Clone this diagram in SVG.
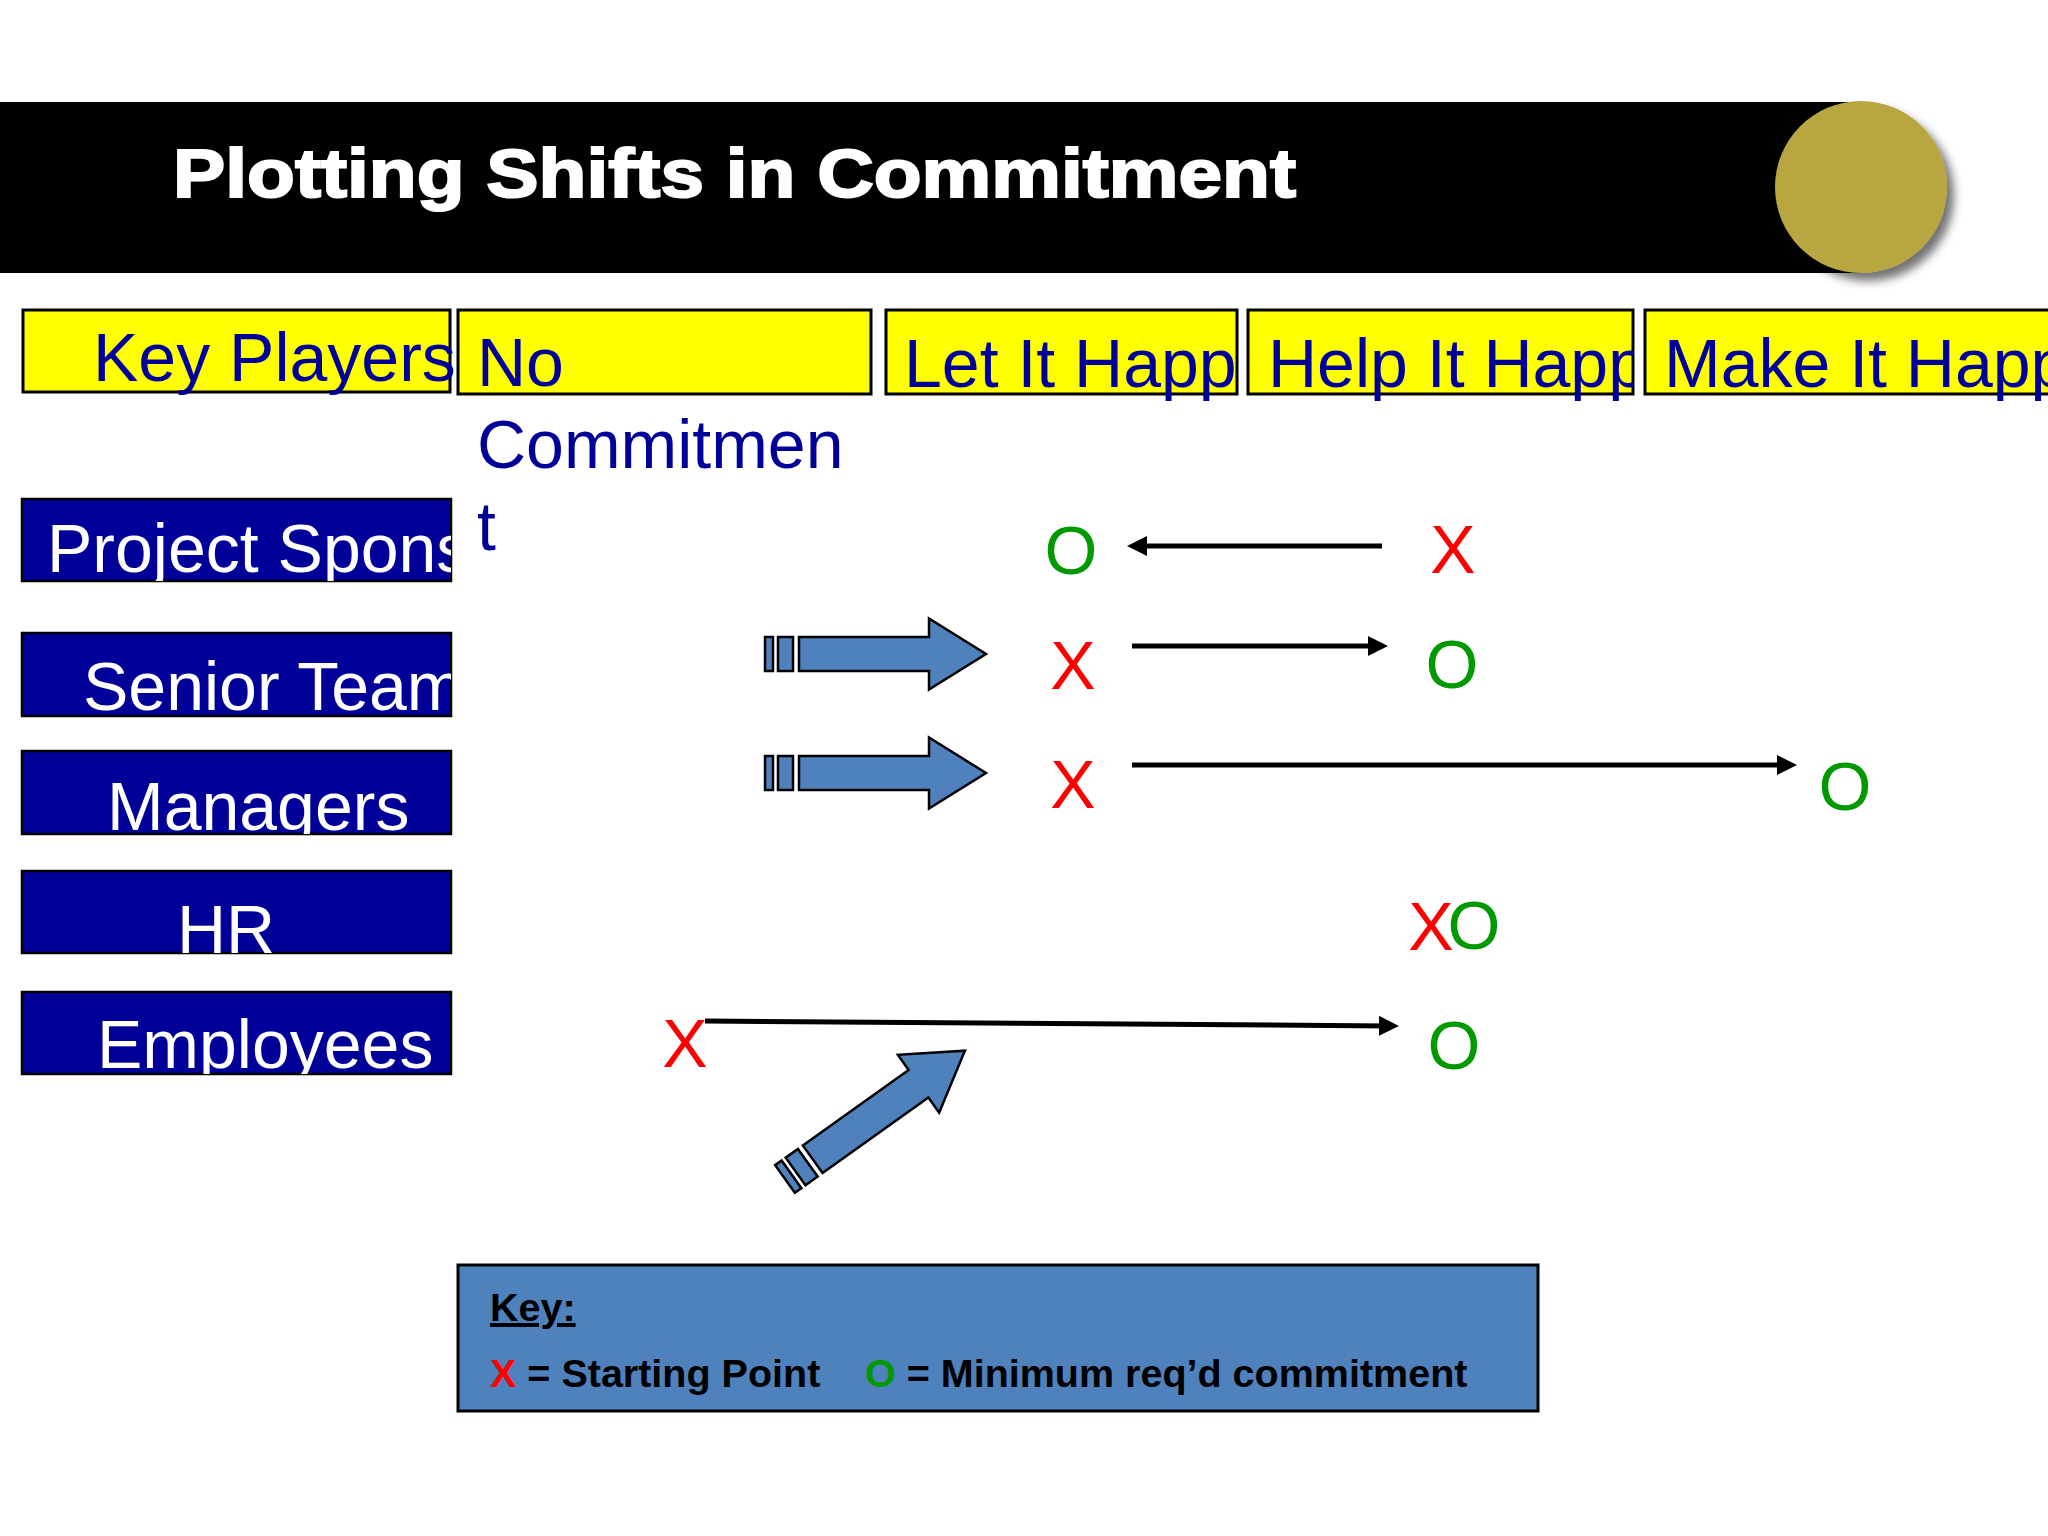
<svg xmlns="http://www.w3.org/2000/svg" width="2048" height="1536" viewBox="0 0 2048 1536">
<style>
.hdr{fill:#FFFF00;stroke:#000;stroke-width:3}
.hdrt{font-family:"Liberation Sans",Arial,sans-serif;font-size:68px;fill:#000099}
.row{fill:#000099;stroke:#000;stroke-width:2.5}
.rowt{font-family:"Liberation Sans",Arial,sans-serif;font-size:68px;fill:#FFFFFF}
.mk{font-family:"Liberation Sans",Arial,sans-serif;font-size:68px;text-anchor:middle}
.x{fill:#FF0000}
.o{fill:#009900}
.conn{stroke:#000;stroke-width:5;fill:none;marker-end:url(#ah)}
.blk{fill:#4F81BD;stroke:#000;stroke-width:2.5;stroke-linejoin:miter}
.keyt{font-family:"Liberation Sans",Arial,sans-serif;font-size:39.5px;font-weight:bold;fill:#000}
</style>
<defs>
<marker id="ah" markerUnits="userSpaceOnUse" markerWidth="22" markerHeight="22" refX="10" refY="10" orient="auto"><path d="M0,0 L20,10 L0,20 Z" fill="#000"/></marker>
<filter id="sh" x="-30%" y="-30%" width="160%" height="160%"><feDropShadow dx="7" dy="8" stdDeviation="5" flood-color="#000" flood-opacity="0.55"/></filter>
<g id="blkarrow" class="blk">
<rect x="0" y="-17" width="8" height="34"/>
<rect x="13" y="-17" width="15" height="34"/>
<path d="M34,-17 H164 V-35.5 L221,0 L164,35.5 V17 H34 Z"/>
</g>
<clipPath id="cLet"><rect x="886" y="280" width="351" height="160"/></clipPath>
<clipPath id="cHelp"><rect x="1248" y="280" width="385" height="160"/></clipPath>
<clipPath id="cProj"><rect x="22" y="499" width="429" height="82"/></clipPath>
<clipPath id="cSen"><rect x="22" y="633" width="429" height="83"/></clipPath>
<clipPath id="cMan"><rect x="22" y="751" width="429" height="83"/></clipPath>
<clipPath id="cHR"><rect x="22" y="871" width="429" height="82"/></clipPath>
<clipPath id="cEmp"><rect x="22" y="992" width="429" height="82"/></clipPath>
</defs>
<rect width="2048" height="1536" fill="#FFFFFF"/>

<g id="title">
<rect x="0" y="102" width="1861" height="171" fill="#000"/>
<circle cx="1861" cy="187" r="86" fill="#B8A640" filter="url(#sh)"/>
<text x="173" y="197" font-family="'Liberation Sans',Arial,sans-serif" font-size="68" font-weight="bold" fill="#FFFFFF" stroke="#FFFFFF" stroke-width="2" textLength="1123" lengthAdjust="spacingAndGlyphs">Plotting Shifts in Commitment</text>
</g>

<g id="hdr-key"><rect class="hdr" x="23" y="310" width="427" height="82"/><text class="hdrt" x="93" y="381">Key Players</text></g>
<g id="hdr-no"><rect class="hdr" x="458" y="310" width="413" height="84"/><text class="hdrt" x="477" y="386">No</text><text class="hdrt" x="477" y="468">Commitmen</text><text class="hdrt" x="477" y="550">t</text></g>
<g id="hdr-let"><rect class="hdr" x="886" y="310" width="351" height="84"/><text class="hdrt" x="904" y="387" clip-path="url(#cLet)">Let It Happe</text></g>
<g id="hdr-help"><rect class="hdr" x="1248" y="310" width="385" height="84"/><text class="hdrt" x="1268" y="387" clip-path="url(#cHelp)">Help It Happ</text></g>
<g id="hdr-make"><rect class="hdr" x="1645" y="310" width="420" height="84"/><text class="hdrt" x="1664" y="387">Make It Happ</text></g>

<g id="row-sponsor"><rect class="row" x="22" y="499" width="429" height="82"/><text class="rowt" x="47" y="572" clip-path="url(#cProj)">Project Spons</text></g>
<g id="row-senior"><rect class="row" x="22" y="633" width="429" height="83"/><text class="rowt" x="83" y="710" clip-path="url(#cSen)">Senior Team</text></g>
<g id="row-managers"><rect class="row" x="22" y="751" width="429" height="83"/><text class="rowt" x="107" y="830" clip-path="url(#cMan)">Managers</text></g>
<g id="row-hr"><rect class="row" x="22" y="871" width="429" height="82"/><text class="rowt" x="177" y="953" clip-path="url(#cHR)">HR</text></g>
<g id="row-employees"><rect class="row" x="22" y="992" width="429" height="82"/><text class="rowt" x="97" y="1068" clip-path="url(#cEmp)">Employees</text></g>

<g id="marks">
<text class="mk o" x="1071" y="574">O</text>
<text class="mk x" x="1453" y="573">X</text>
<text class="mk x" x="1073" y="689">X</text>
<text class="mk o" x="1452" y="688">O</text>
<text class="mk x" x="1073" y="808">X</text>
<text class="mk o" x="1845" y="810">O</text>
<text class="mk x" x="1431" y="950">X</text>
<text class="mk o" x="1474" y="949">O</text>
<text class="mk x" x="685" y="1067">X</text>
<text class="mk o" x="1454" y="1069">O</text>
</g>

<g id="connectors">
<line class="conn" x1="1382" y1="546" x2="1137" y2="546"/>
<line class="conn" x1="1132" y1="646" x2="1378" y2="646"/>
<line class="conn" x1="1132" y1="765" x2="1787" y2="765"/>
<line class="conn" x1="705" y1="1021" x2="1389" y2="1025.9"/>
</g>

<g id="block-arrows">
<use href="#blkarrow" transform="translate(765,654)"/>
<use href="#blkarrow" transform="translate(765,773)"/>
<use href="#blkarrow" transform="translate(785,1179) rotate(-35.5)"/>
</g>

<g id="key">
<rect x="458" y="1265" width="1080" height="146" fill="#4F81BD" stroke="#000" stroke-width="3"/>
<text class="keyt" x="490" y="1321" text-decoration="underline">Key:</text>
<text class="keyt" x="490" y="1387"><tspan fill="#FF0000">X</tspan> = Starting Point</text>
<text class="keyt" x="865" y="1387"><tspan fill="#009900">O</tspan> = Minimum req’d commitment</text>
</g>
</svg>
